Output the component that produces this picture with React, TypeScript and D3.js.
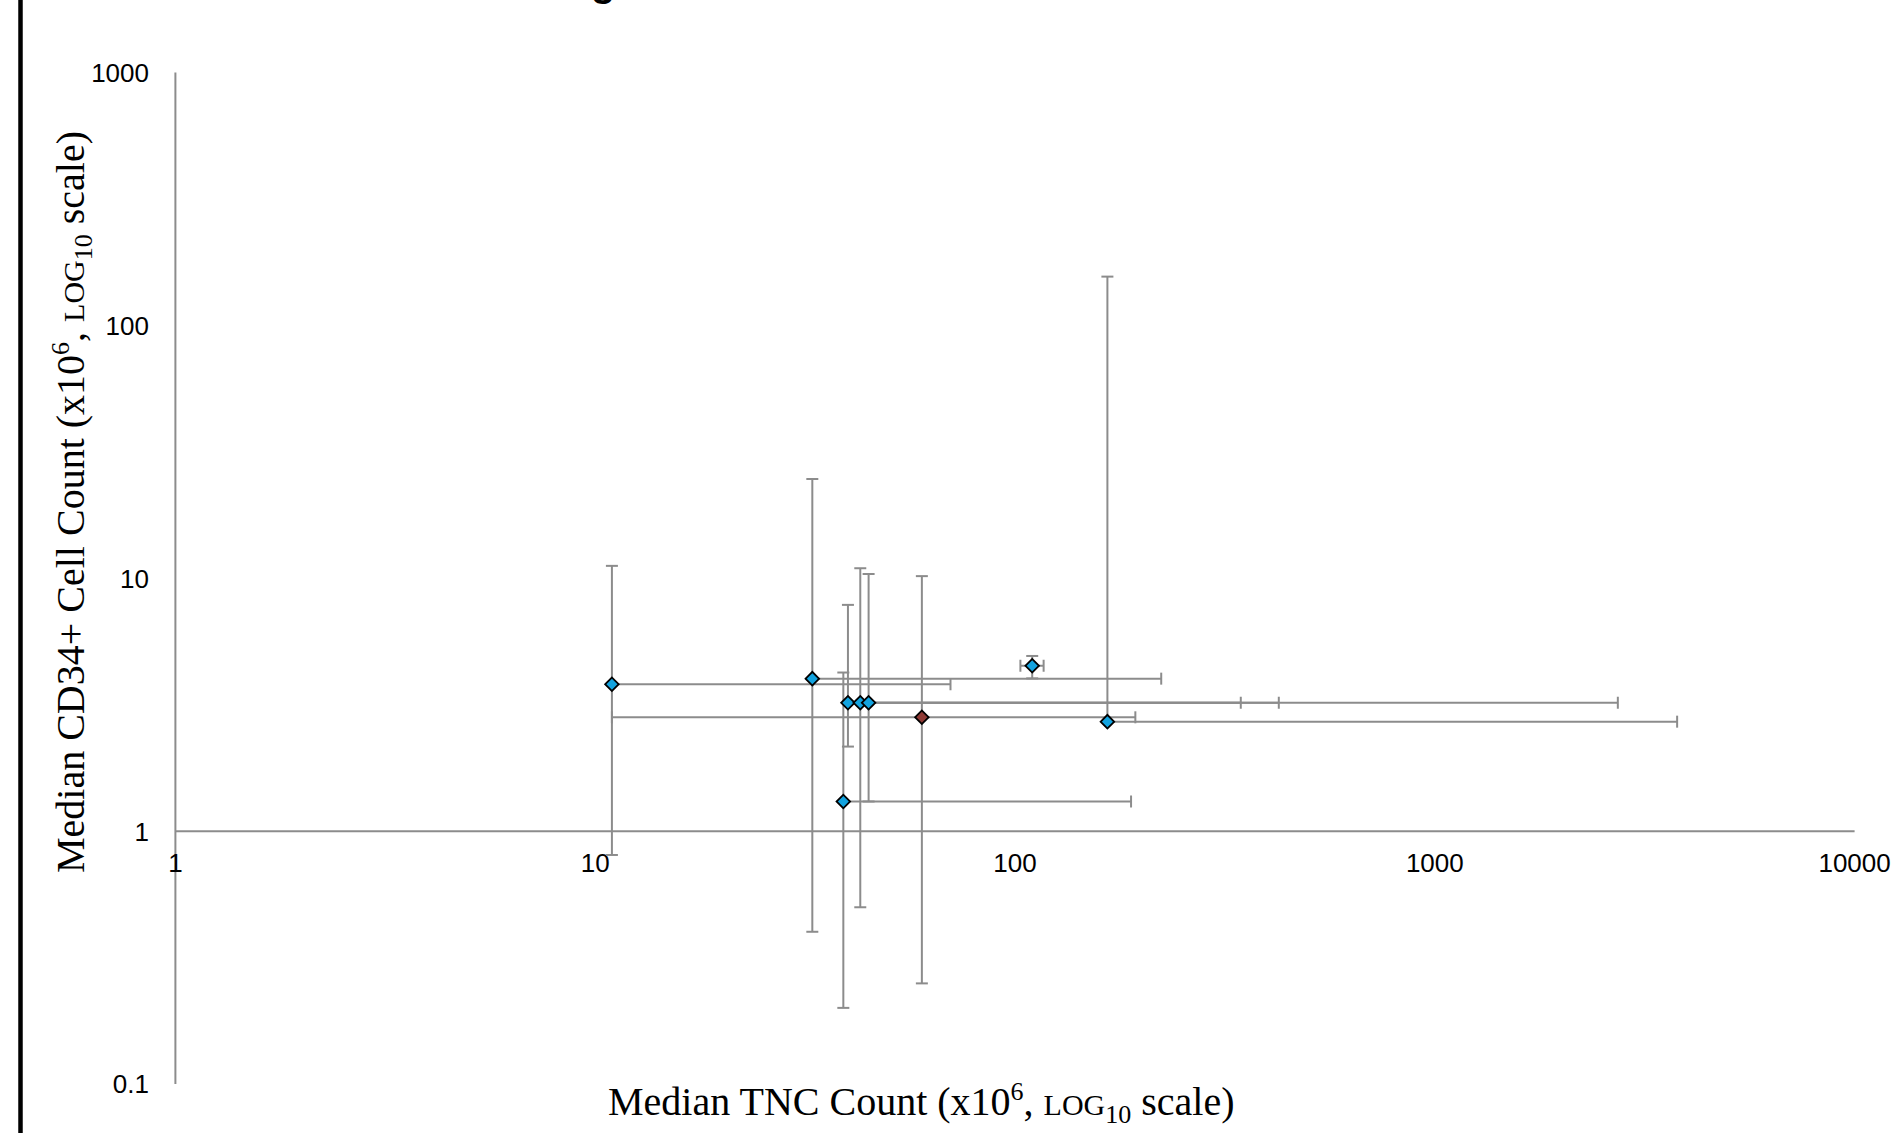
import React from "react";
import * as d3 from "d3";

// ---- data ----
const tncMedian = [10.96, 32.9, 40.0, 42.8, 44.8, 39.0, 60.0, 166, 109.9];
const cd34Median = [3.81, 4.01, 3.22, 3.22, 3.22, 1.31, 2.82, 2.71, 4.51];
const tncLow = [10.96, 32.9, 40.0, 42.8, 44.8, 39.0, 10.96, 166, 103];
const tncHigh = [70.2, 223, 345, 425, 2729, 189, 193.5, 3778, 117];
const cd34Low = [0.805, 0.4, 2.16, 0.5, 1.31, 0.2, 0.25, 2.71, 4.02];
const cd34High = [11.2, 24.7, 7.85, 10.96, 10.4, 4.24, 10.2, 156, 4.93];
const pointGroup = ["study", "study", "study", "study", "study", "study", "overall", "study", "study"];

const xTicks = [1, 10, 100, 1000, 10000];
const xTickLabels = ["1", "10", "100", "1000", "10000"];
const yTicks = [0.1, 1, 10, 100, 1000];
const yTickLabels = ["0.1", "1", "10", "100", "1000"];

const W = 1897;
const H = 1133;

const GRAY = "#8c8c8c";
const BLUE = "#13a3df";
const RED = "#8f3a35";

export default function App() {
  const x = d3.scaleLog().domain([1, 10000]).range([175.4, 1854.6]);
  const y = d3.scaleLog().domain([0.1, 1000]).range([1084, 72.6]);
  const diamond = d3.symbol().type(d3.symbolSquare).size(92)() as string;
  const cap = 6;

  const points = tncMedian.map((v, i) => ({
    x: v,
    y: cd34Median[i],
    xl: tncLow[i],
    xh: tncHigh[i],
    yl: cd34Low[i],
    yh: cd34High[i],
    g: pointGroup[i],
  }));

  const serif = "'Liberation Serif', 'Times New Roman', serif";
  const sans = "'Liberation Sans', Arial, sans-serif";

  return (
    <svg
      width={W}
      height={H}
      style={{ position: "absolute", left: 0, top: 0, background: "#fff" }}
    >
      <rect x={0} y={0} width={W} height={H} fill="#fff" />
      {/* left border line */}
      <line x1={20.5} x2={20.5} y1={0} y2={H} stroke="#000" strokeWidth={4.5} />
      {/* clipped title descender */}
      <text x={591} y={-4} fontFamily={sans} fontWeight="bold" fontSize={40} fill="#000">
        g
      </text>

      {/* axes */}
      <line x1={x(1)} x2={x(1)} y1={y(1000)} y2={y(0.1)} stroke={GRAY} strokeWidth={2} />
      <line x1={x(1)} x2={x(10000)} y1={y(1)} y2={y(1)} stroke={GRAY} strokeWidth={2} />

      {/* tick labels */}
      {yTicks.map((t, i) => (
        <text
          key={"yt" + i}
          x={149}
          y={y(t)}
          dy="0.36em"
          textAnchor="end"
          fontFamily={sans}
          fontSize={26}
          fill="#000"
        >
          {yTickLabels[i]}
        </text>
      ))}
      {xTicks.map((t, i) => (
        <text
          key={"xt" + i}
          x={x(t)}
          y={y(1) + 31}
          dy="0.36em"
          textAnchor="middle"
          fontFamily={sans}
          fontSize={26}
          fill="#000"
        >
          {xTickLabels[i]}
        </text>
      ))}

      {/* error bars */}
      {points.map((p, i) => (
        <g key={"eb" + i} stroke={GRAY} strokeWidth={2} fill="none">
          {p.yh !== p.y || p.yl !== p.y ? (
            <line x1={x(p.x)} x2={x(p.x)} y1={y(p.yh)} y2={y(p.yl)} />
          ) : null}
          {p.yh !== p.y ? (
            <line x1={x(p.x) - cap} x2={x(p.x) + cap} y1={y(p.yh)} y2={y(p.yh)} />
          ) : null}
          {p.yl !== p.y ? (
            <line x1={x(p.x) - cap} x2={x(p.x) + cap} y1={y(p.yl)} y2={y(p.yl)} />
          ) : null}
          <line x1={x(p.xl)} x2={x(p.xh)} y1={y(p.y)} y2={y(p.y)} />
          {p.xh !== p.x ? (
            <line x1={x(p.xh)} x2={x(p.xh)} y1={y(p.y) - cap} y2={y(p.y) + cap} />
          ) : null}
          {p.xl !== p.x ? (
            <line x1={x(p.xl)} x2={x(p.xl)} y1={y(p.y) - cap} y2={y(p.y) + cap} />
          ) : null}
        </g>
      ))}

      {/* markers */}
      {points.map((p, i) => (
        <path
          key={"pt" + i}
          d={diamond}
          transform={`translate(${x(p.x)},${y(p.y)}) rotate(45)`}
          fill={p.g === "overall" ? RED : BLUE}
          stroke="#000"
          strokeWidth={1.8}
        />
      ))}

      {/* x axis title */}
      <text x={608} y={1115} fontFamily={serif} fontSize={40} fill="#000">
        <tspan>Median TNC Count (x10</tspan>
        <tspan fontSize={26} dy={-15}>6</tspan>
        <tspan dy={15}>, </tspan>
        <tspan fontSize={30}>LOG</tspan>
        <tspan fontSize={26} dy={8}>10</tspan>
        <tspan dy={-8}> scale)</tspan>
      </text>

      {/* y axis title */}
      <text
        transform={`translate(84,502) rotate(-90)`}
        textAnchor="middle"
        fontFamily={serif}
        fontSize={40}
        fill="#000"
      >
        <tspan>Median CD34+ Cell Count (x10</tspan>
        <tspan fontSize={26} dy={-15}>6</tspan>
        <tspan dy={15}>, </tspan>
        <tspan fontSize={30}>LOG</tspan>
        <tspan fontSize={26} dy={8}>10</tspan>
        <tspan dy={-8}> scale)</tspan>
      </text>
    </svg>
  );
}
